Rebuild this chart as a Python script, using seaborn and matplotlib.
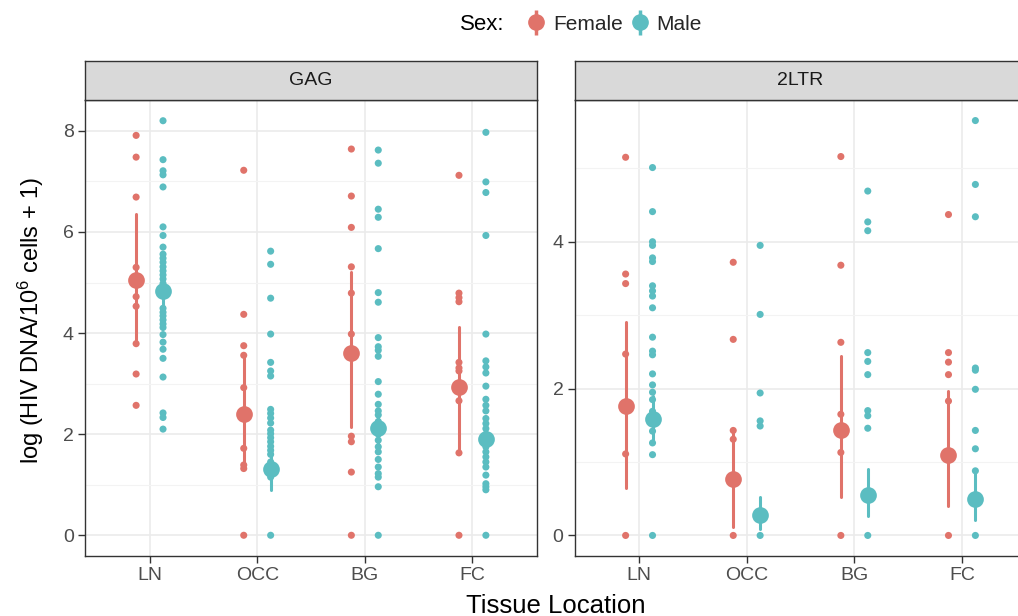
import pandas as pd
import seaborn as sns
import matplotlib.pyplot as plt
from matplotlib.lines import Line2D
from matplotlib.ticker import MultipleLocator

sns.set_theme(style='white')
plt.rcParams['font.family'] = ['Liberation Sans', 'DejaVu Sans']
plt.rcParams['mathtext.fontset'] = 'custom'
plt.rcParams['mathtext.rm'] = 'Liberation Sans'
plt.rcParams['mathtext.it'] = 'Liberation Sans:italic'

tissues = ['LN', 'OCC', 'BG', 'FC']
sexes = ['Female', 'Male']
panels = ['GAG', '2LTR']
pal = {'Female': '#E0736A', 'Male': '#5BBDC1'}

# --- raw values, GAG ---
gag_ln_f = [7.91, 7.48, 6.69, 5.30, 4.72, 4.53, 3.79, 3.19, 2.57]
gag_ln_m = [8.20, 7.43, 7.21, 7.13, 6.89, 6.10, 5.93, 5.70, 5.56, 5.48, 5.40, 5.31,
            5.23, 5.15, 5.07, 4.98, 4.92, 4.84, 4.75, 4.49, 4.41, 4.34, 4.26, 4.18,
            4.11, 3.97, 3.82, 3.68, 3.50, 3.13, 2.42, 2.33, 2.10]
gag_occ_f = [7.22, 4.37, 3.75, 3.56, 2.92, 1.72, 1.39, 1.32, 0.0]
gag_occ_m = [5.62, 5.36, 4.69, 3.98, 3.42, 3.25, 3.15, 2.49, 2.41, 2.32, 2.22, 2.08,
             2.01, 1.93, 1.85, 1.76, 1.68, 1.60, 1.45, 1.30, 1.15, 0.0]
gag_bg_f = [7.64, 6.71, 6.09, 5.31, 4.79, 3.98, 1.96, 1.85, 1.25, 0.0]
gag_bg_m = [7.62, 7.36, 6.45, 6.29, 5.67, 4.80, 4.61, 3.91, 3.73, 3.66, 3.54, 3.04,
            2.79, 2.59, 2.46, 2.38, 2.25, 2.10, 2.00, 1.88, 1.75, 1.65, 1.50, 1.35,
            1.22, 1.15, 0.96, 0.0]
gag_fc_f = [7.12, 4.79, 4.70, 4.62, 3.42, 3.31, 3.25, 2.66, 1.63, 0.0]
gag_fc_m = [7.97, 6.99, 6.78, 5.93, 3.98, 3.45, 3.33, 3.21, 2.95, 2.69, 2.57, 2.46,
            2.31, 2.21, 2.11, 2.00, 1.90, 1.75, 1.65, 1.55, 1.45, 1.35, 1.19, 1.02,
            0.96, 0.90, 0.0]

# --- raw values, 2LTR ---
ltr_ln_f = [5.15, 3.56, 3.43, 2.47, 1.11, 0.0]
ltr_ln_m = [5.01, 4.41, 4.00, 3.95, 3.78, 3.73, 3.40, 3.33, 3.26, 3.10, 2.70, 2.51,
            2.46, 2.20, 2.05, 1.95, 1.85, 1.69, 1.59, 1.42, 1.26, 1.10, 0.0]
ltr_occ_f = [3.72, 2.67, 1.43, 1.31, 0.0]
ltr_occ_m = [3.95, 3.01, 1.94, 1.56, 1.49, 0.0]
ltr_bg_f = [5.16, 3.68, 2.63, 1.65, 1.13, 0.0]
ltr_bg_m = [4.69, 4.27, 4.15, 2.49, 2.37, 2.19, 1.70, 1.63, 1.46, 0.0]
ltr_fc_f = [4.37, 2.49, 2.36, 2.19, 1.83, 0.0]
ltr_fc_m = [5.65, 4.78, 4.34, 2.28, 2.25, 1.99, 1.43, 1.18, 0.88, 0.0]

# --- mean and interval per tissue (LN, OCC, BG, FC) ---
gag_mean_f = [5.04, 2.40, 3.60, 2.94]
gag_lo_f = [3.86, 1.33, 2.15, 1.63]
gag_hi_f = [6.36, 3.58, 5.21, 4.12]
gag_mean_m = [4.84, 1.31, 2.13, 1.90]
gag_lo_m = [4.40, 0.89, 1.80, 1.55]
gag_hi_m = [5.30, 1.72, 2.50, 2.25]
ltr_mean_f = [1.76, 0.77, 1.44, 1.10]
ltr_lo_f = [0.64, 0.12, 0.53, 0.40]
ltr_hi_f = [2.90, 1.44, 2.44, 1.97]
ltr_mean_m = [1.59, 0.28, 0.55, 0.49]
ltr_lo_m = [1.30, 0.09, 0.26, 0.21]
ltr_hi_m = [1.90, 0.53, 0.90, 0.85]

raw = {
    'GAG': {'Female': [gag_ln_f, gag_occ_f, gag_bg_f, gag_fc_f],
            'Male': [gag_ln_m, gag_occ_m, gag_bg_m, gag_fc_m]},
    '2LTR': {'Female': [ltr_ln_f, ltr_occ_f, ltr_bg_f, ltr_fc_f],
             'Male': [ltr_ln_m, ltr_occ_m, ltr_bg_m, ltr_fc_m]},
}
summ = {
    'GAG': {'Female': (gag_lo_f, gag_mean_f, gag_hi_f),
            'Male': (gag_lo_m, gag_mean_m, gag_hi_m)},
    '2LTR': {'Female': (ltr_lo_f, ltr_mean_f, ltr_hi_f),
             'Male': (ltr_lo_m, ltr_mean_m, ltr_hi_m)},
}
offset = {'Female': -0.125, 'Male': 0.125}

rows, srows = [], []
for p in panels:
    for s in sexes:
        for i, t in enumerate(tissues):
            for v in raw[p][s][i]:
                rows.append((p, t, s, i + offset[s], v))
            for arr in summ[p][s]:
                srows.append((p, t, s, i + offset[s], arr[i]))
df = pd.DataFrame(rows, columns=['panel', 'tissue', 'sex', 'xpos', 'value'])
sdf = pd.DataFrame(srows, columns=['panel', 'tissue', 'sex', 'xpos', 'value'])

W, H = 1018, 616
fig = plt.figure(figsize=(W / 100, H / 100), dpi=100)

panel_left = {'GAG': 85, '2LTR': 574.5}
ylims = {'GAG': (-0.41, 8.61), '2LTR': (-0.28, 5.93)}
pw, top, bot = 452, 100, 556

for p in panels:
    x0 = panel_left[p]
    ax = fig.add_axes([x0 / W, (H - bot) / H, pw / W, (bot - top) / H])
    sub = df[df['panel'] == p]
    ssub = sdf[sdf['panel'] == p]
    sns.scatterplot(data=sub, x='xpos', y='value', hue='sex', hue_order=sexes,
                    palette=pal, s=26, linewidth=0, legend=False, ax=ax, zorder=3)
    # median of (lo, mean, hi) = mean, min-max interval = lo..hi
    sns.pointplot(data=ssub, x='xpos', y='value', hue='sex', hue_order=sexes,
                  palette=pal, estimator='median', errorbar=('pi', 100),
                  native_scale=True, dodge=False, linestyle='none', markersize=10,
                  err_kws={'linewidth': 2.2}, legend=False, ax=ax, zorder=4)
    ax.set_xlim(-0.6, 3.6)
    ax.set_ylim(*ylims[p])
    ax.set_xticks(range(len(tissues)))
    ax.set_xticklabels(tissues)
    ax.yaxis.set_major_locator(MultipleLocator(2))
    ax.yaxis.set_minor_locator(MultipleLocator(1))
    ax.set_xlabel('')
    ax.set_ylabel('')
    ax.grid(which='major', color='#EBEBEB', linewidth=1.2)
    ax.grid(which='minor', axis='y', color='#F3F3F3', linewidth=0.8)
    ax.set_axisbelow(True)
    ax.tick_params(which='major', length=5, width=1, color='#333333',
                   labelcolor='#4D4D4D', labelsize=14, pad=3,
                   bottom=True, left=True)
    ax.tick_params(which='minor', length=0)
    for sp in ax.spines.values():
        sp.set_color('#333333')
        sp.set_linewidth(1.0)

    # facet strip
    sax = fig.add_axes([x0 / W, (H - top) / H, pw / W, 39 / H])
    sax.set_facecolor('#D9D9D9')
    sax.set_xticks([])
    sax.set_yticks([])
    for sp in sax.spines.values():
        sp.set_color('#333333')
        sp.set_linewidth(1.0)
    sax.text(0.5, 0.5, p, ha='center', va='center', fontsize=14,
             color='#1A1A1A', transform=sax.transAxes)

fig.text(31 / W, 1 - 320 / H, r'log (HIV DNA/10$^{6}$ cells + 1)', rotation=90,
         ha='center', va='center', fontsize=17, color='black')
fig.text(556 / W, 1 - 613 / H, 'Tissue Location', ha='center', va='baseline',
         fontsize=18.5, color='black')

# legend
fig.text(482 / W, 1 - 24 / H, 'Sex:', ha='center', va='center', fontsize=16,
         color='black')
handles = []
for s in sexes:
    bar = Line2D([], [], marker='|', color=pal[s], markersize=18,
                 markeredgewidth=2.5, linestyle='none')
    dot = Line2D([], [], marker='o', color=pal[s], markersize=11, linestyle='none')
    handles.append((bar, dot))
fig.legend(handles, sexes, loc='center left', bbox_to_anchor=(526 / W, 1 - 24 / H),
           ncol=2, frameon=False, fontsize=15, handlelength=1.0,
           handletextpad=0.3, columnspacing=0.3, borderpad=0, borderaxespad=0)

fig.savefig('out.png', dpi=100)
